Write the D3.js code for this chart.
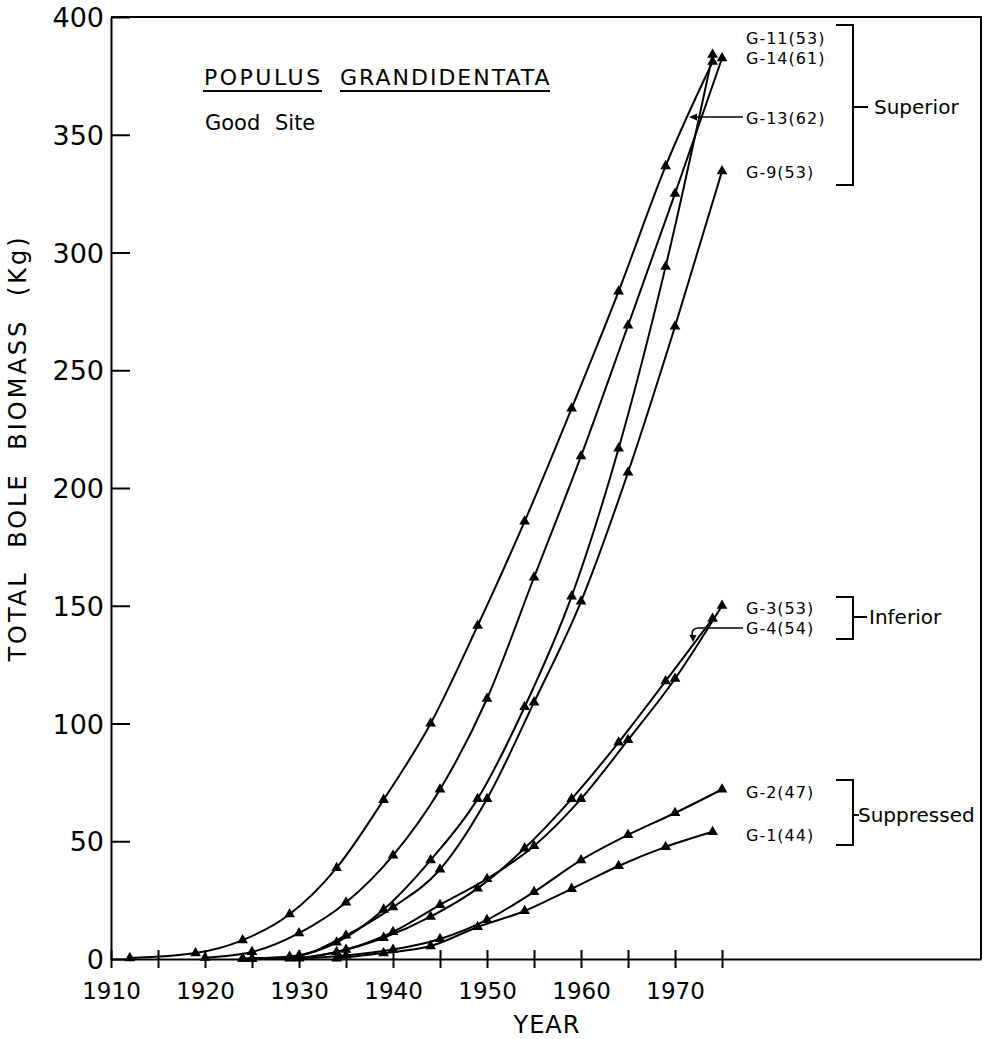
<!DOCTYPE html>
<html>
<head>
<meta charset="utf-8">
<script src="https://cdn.jsdelivr.net/npm/d3@7"></script>
<style>
  body { margin: 0; background: #fff; }
  text { font-family: "DejaVu Sans", sans-serif; fill: #000; }
</style>
</head>
<body>
<div id="chart"></div>
<script>
// values: [year, total bole biomass kg]
const g13 = [[1912, 0.4], [1919, 2.5], [1924, 8], [1929, 19], [1934, 38.7], [1939, 67.6], [1944, 100], [1949, 141.5], [1954, 185.8], [1959, 233.8], [1964, 283.5], [1969, 336.7], [1974, 381]];
const g14 = [[1920, 0.6], [1925, 3], [1930, 11], [1935, 24], [1940, 44], [1945, 72], [1950, 110.5], [1955, 162], [1960, 213.5], [1965, 269], [1970, 325], [1975, 382.5]];
const g11 = [[1924, 0.2], [1929, 1], [1934, 7], [1939, 21], [1944, 42], [1949, 68], [1954, 107], [1959, 154], [1964, 216.8], [1969, 294], [1974, 384]];
const g9 = [[1925, 0.2], [1930, 1.5], [1935, 10], [1940, 22], [1945, 38], [1950, 68], [1955, 109], [1960, 151.8], [1965, 206.6], [1970, 268.6], [1975, 334.5]];
const g3 = [[1925, 0.1], [1930, 0.5], [1935, 4], [1940, 11.5], [1945, 23], [1950, 34], [1955, 48], [1960, 68], [1965, 93], [1970, 119], [1975, 150]];
const g4 = [[1924, 0.1], [1929, 0.3], [1934, 3], [1939, 9], [1944, 18], [1949, 30], [1954, 47], [1959, 68], [1964, 92], [1969, 118], [1974, 144.5]];
const g2 = [[1930, 0.3], [1935, 1.5], [1940, 4], [1945, 8.5], [1950, 16.6], [1955, 28.5], [1960, 42], [1965, 52.7], [1970, 62], [1975, 72]];
const g1 = [[1934, 0.3], [1939, 2.5], [1944, 5.5], [1949, 13.6], [1954, 20.4], [1959, 29.8], [1964, 39.5], [1969, 47.6], [1974, 54]];

const allSeries = [g13, g14, g11, g9, g3, g4, g2, g1];

const xTicks = [1910, 1915, 1920, 1925, 1930, 1935, 1940, 1945, 1950, 1955, 1960, 1965, 1970, 1975];
const yTicks = [0, 50, 100, 150, 200, 250, 300, 350, 400];

const width = 988;
const height = 1039;

const svg = d3.select("#chart")
    .append("svg")
    .attr("width", width)
    .attr("height", height);

const x = d3.scaleLinear().domain([1910, 2002.55]).range([111, 981]);
const y = d3.scaleLinear().domain([0, 400]).range([959, 17]);

// frame (top and right)
svg.append("path")
    .attr("d", `M${x(1910)},${y(400)} H${x(2002.55)} V${y(0)}`)
    .attr("fill", "none")
    .attr("stroke", "#000")
    .attr("stroke-width", 2);

// y axis, ticks pointing inward
const yAxis = d3.axisLeft(y)
    .tickValues(yTicks)
    .tickSizeInner(-19)
    .tickSizeOuter(0)
    .tickPadding(7);

const gy = svg.append("g")
    .attr("transform", `translate(${x(1910)},0)`)
    .call(yAxis);
gy.select(".domain").attr("stroke-width", 2);
gy.selectAll(".tick line").attr("stroke-width", 2);
gy.selectAll(".tick text")
    .style("font-size", "27px")
    .attr("dy", "0.36em");

// x axis, ticks crossing the line
const xAxis = d3.axisBottom(x)
    .tickValues(xTicks)
    .tickSizeInner(9)
    .tickSizeOuter(0)
    .tickPadding(14)
    .tickFormat(d => d % 10 === 0 ? d : "");

const gx = svg.append("g")
    .attr("transform", `translate(0,${y(0)})`)
    .call(xAxis);
gx.select(".domain").attr("stroke-width", 2);
gx.selectAll(".tick line").attr("y1", -9).attr("stroke-width", 2);
gx.selectAll(".tick text").style("font-size", "23px").attr("dy", "0.72em");

// axis titles
svg.append("text")
    .attr("x", 547)
    .attr("y", 1033)
    .attr("text-anchor", "middle")
    .style("font-size", "24px")
    .style("letter-spacing", "1px")
    .text("YEAR");

svg.append("text")
    .attr("transform", "translate(26,448) rotate(-90)")
    .attr("text-anchor", "middle")
    .style("font-size", "24px")
    .style("letter-spacing", "3px")
    .style("word-spacing", "12px")
    .text("TOTAL BOLE BIOMASS (Kg)");

// lines and markers
const line = d3.line()
    .x(d => x(d[0]))
    .y(d => y(d[1]))
    .curve(d3.curveMonotoneX);

svg.append("g")
    .selectAll("path")
    .data(allSeries)
    .enter()
    .append("path")
    .attr("d", line)
    .attr("fill", "none")
    .attr("stroke", "#000")
    .attr("stroke-width", 2);

const tri = d3.symbol().type(d3.symbolTriangle).size(50);

svg.append("g")
    .selectAll("path")
    .data(allSeries.flat())
    .enter()
    .append("path")
    .attr("d", tri)
    .attr("transform", d => `translate(${x(d[0])},${y(d[1])})`)
    .attr("fill", "#000");

// title block
const title = svg.append("g").style("font-size", "22px");
title.append("text").attr("x", 204).attr("y", 85).style("letter-spacing", "2.5px").text("POPULUS");
title.append("text").attr("x", 340).attr("y", 85).style("letter-spacing", "2px").text("GRANDIDENTATA");
title.append("line").attr("x1", 203).attr("x2", 322).attr("y1", 91).attr("y2", 91).attr("stroke", "#000").attr("stroke-width", 2);
title.append("line").attr("x1", 340).attr("x2", 550).attr("y1", 91).attr("y2", 91).attr("stroke", "#000").attr("stroke-width", 2);
title.append("text").attr("x", 205).attr("y", 130).style("word-spacing", "8px").style("font-size", "21px").text("Good Site");

// tree labels
const treeLabels = [
    { t: "G-11(53)", y: 38 },
    { t: "G-14(61)", y: 58 },
    { t: "G-13(62)", y: 118 },
    { t: "G-9(53)", y: 172 },
    { t: "G-3(53)", y: 608 },
    { t: "G-4(54)", y: 628 },
    { t: "G-2(47)", y: 792 },
    { t: "G-1(44)", y: 835 }
];
svg.append("g")
    .selectAll("text")
    .data(treeLabels)
    .enter()
    .append("text")
    .attr("x", 746)
    .attr("y", d => d.y)
    .attr("dy", "0.36em")
    .style("font-size", "16px")
    .style("letter-spacing", "1px")
    .text(d => d.t);

// leader for G-13
svg.append("line").attr("x1", 692).attr("x2", 743).attr("y1", 117).attr("y2", 117).attr("stroke", "#000").attr("stroke-width", 1.5);
svg.append("path").attr("d", "M689,117 L697,113.5 L697,120.5 Z").attr("fill", "#000");

// leader for G-4 with a hook
svg.append("path")
    .attr("d", "M743,628 H699 Q692,628 692,634 L693,638")
    .attr("fill", "none")
    .attr("stroke", "#000")
    .attr("stroke-width", 1.5);
svg.append("path").attr("d", "M693,642 L689.5,635 L696.5,635 Z").attr("fill", "#000");

// group brackets
const groups = [
    { t: "Superior", top: 25, bottom: 185, mid: 107, tickEnd: 868, tx: 874 },
    { t: "Inferior", top: 597, bottom: 639, mid: 617, tickEnd: 867, tx: 869 },
    { t: "Suppressed", top: 780, bottom: 845, mid: 815, tickEnd: 859, tx: 858 }
];
const gb = svg.append("g");
groups.forEach(g => {
    gb.append("path")
        .attr("d", `M836,${g.top} H853 V${g.bottom} H836 M853,${g.mid} H${g.tickEnd}`)
        .attr("fill", "none")
        .attr("stroke", "#000")
        .attr("stroke-width", 2);
    gb.append("text")
        .attr("x", g.tx)
        .attr("y", g.mid)
        .attr("dy", "0.36em")
        .style("font-size", "20px")
        .text(g.t);
});
</script>
</body>
</html>
